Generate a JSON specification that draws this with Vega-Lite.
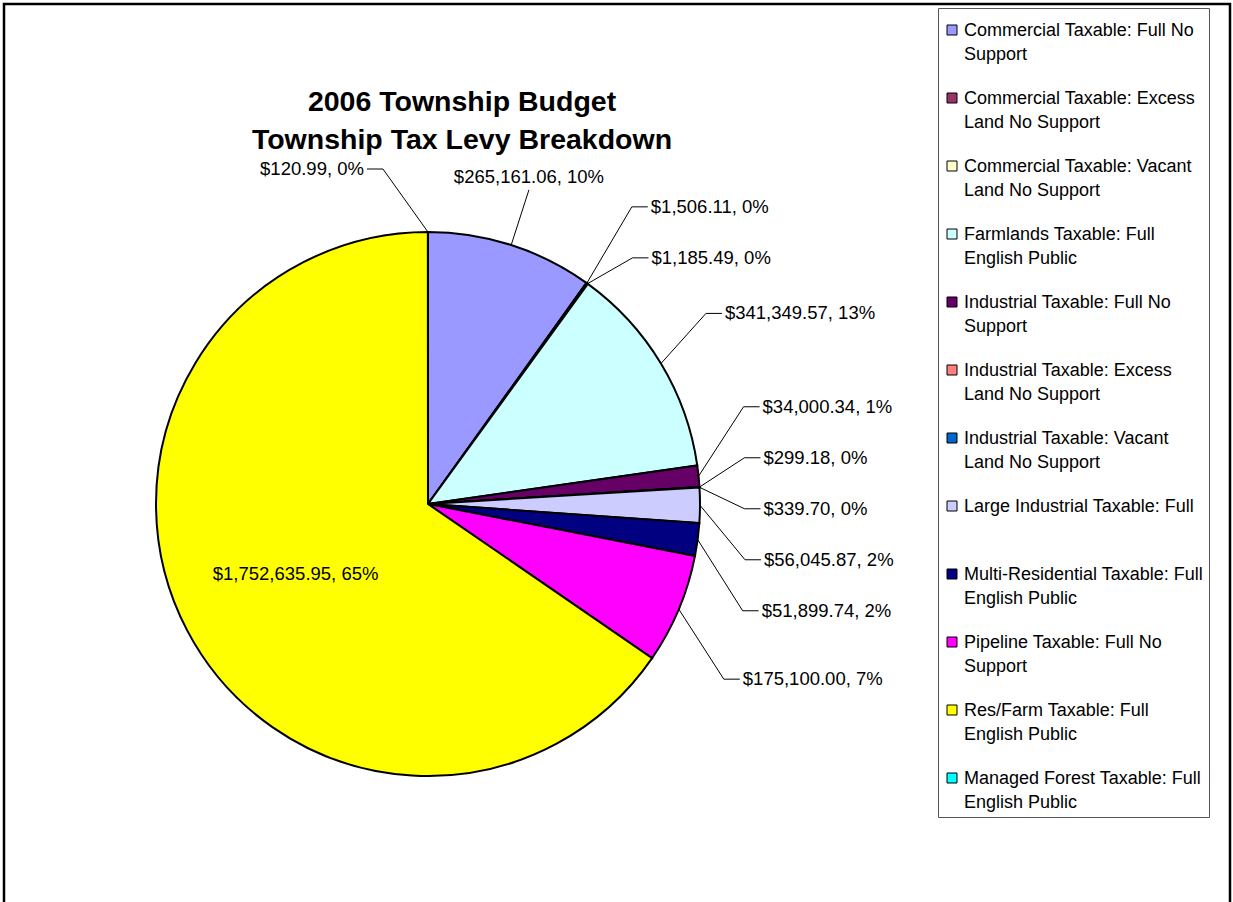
{
  "$schema": "https://vega.github.io/schema/vega-lite/v6.json",
  "autosize": {"type": "fit", "contains": "padding"},
  "width": 1233,
  "height": 902,
  "padding": {"left": 4, "top": 4, "right": 3, "bottom": -8},
  "background": "white",
  "config": {
    "view": {"stroke": "black", "strokeWidth": 2.5},
    "style": {"guide-label": {"lineHeight": 24}}
  },
  "title": {
    "text": ["2006 Township Budget", "Township Tax Levy Breakdown"],
    "font": "Liberation Sans",
    "fontSize": 28.5,
    "fontWeight": "bold",
    "color": "black",
    "anchor": "middle",
    "frame": "group",
    "dx": -155,
    "offset": -150,
    "baseline": "top",
    "lineHeight": 38
  },
  "data": {
    "values": [
      {"name": "Commercial Taxable: Full No Support", "amount": 265161.06},
      {"name": "Commercial Taxable: Excess Land No Support", "amount": 1506.11},
      {"name": "Commercial Taxable: Vacant Land No Support", "amount": 1185.49},
      {"name": "Farmlands Taxable: Full English Public", "amount": 341349.57},
      {"name": "Industrial Taxable: Full No Support", "amount": 34000.34},
      {"name": "Industrial Taxable: Excess Land No Support", "amount": 299.18},
      {"name": "Industrial Taxable: Vacant Land No Support", "amount": 339.70},
      {"name": "Large Industrial Taxable: Full", "amount": 56045.87},
      {"name": "Multi-Residential Taxable: Full English Public", "amount": 51899.74},
      {"name": "Pipeline Taxable: Full No Support", "amount": 175100.00},
      {"name": "Res/Farm Taxable: Full English Public", "amount": 1752635.95},
      {"name": "Managed Forest Taxable: Full English Public", "amount": 120.99}
    ]
  },
  "transform": [
    {"window": [{"op": "row_number", "as": "idx"}]},
    {"joinaggregate": [{"op": "sum", "field": "amount", "as": "total"}]},
    {"window": [{"op": "sum", "field": "amount", "as": "cum"}], "sort": [{"field": "idx"}], "frame": [null, 0], "ignorePeers": true},
    {"calculate": "(datum.cum - datum.amount / 2) / datum.total * 2 * PI", "as": "mid"},
    {"calculate": "datum.amount / datum.total", "as": "frac"},
    {"calculate": "'$' + format(datum.amount, ',.2f') + ', ' + format(datum.frac, '.0%')", "as": "label"},
    {"calculate": "272 * sin(datum.mid)", "as": "ax"},
    {"calculate": "-272 * cos(datum.mid)", "as": "ay"},
    {"calculate": "datum.frac > 0.5 ? 'in' : ((cos(datum.mid) > 0.9 && sin(datum.mid) > 0) ? 'top' : (sin(datum.mid) >= 0 ? 'R' : 'L'))", "as": "side"},
    {"calculate": "datum.side == 'L' ? -1 : 1", "as": "sgn"},
    {"calculate": "-335 * cos(datum.mid)", "as": "ny"},
    {"window": [{"op": "row_number", "as": "k"}], "groupby": ["side"], "sort": [{"field": "ny"}]},
    {"calculate": "datum.ny - datum.k * 51", "as": "z"},
    {"window": [{"op": "max", "field": "z", "as": "zd"}], "groupby": ["side"], "sort": [{"field": "ny"}], "frame": [null, 0], "ignorePeers": true},
    {"window": [{"op": "min", "field": "z", "as": "zu"}], "groupby": ["side"], "sort": [{"field": "ny"}], "frame": [0, null], "ignorePeers": true},
    {"calculate": "(datum.zd + datum.zu) / 2 + datum.k * 51", "as": "ly"},
    {"calculate": "datum.side == 'top' ? 330 * sin(datum.mid) : datum.ax + datum.sgn * 45", "as": "ex"},
    {"calculate": "datum.side == 'top' ? -330 * cos(datum.mid) : datum.ly", "as": "ey"},
    {"calculate": "datum.side == 'top' ? datum.ex : datum.ex + datum.sgn * 16", "as": "lx"},
    {"calculate": "0.55 * 272 * sin(datum.mid)", "as": "ix"},
    {"calculate": "-0.55 * 272 * cos(datum.mid)", "as": "iy"}
  ],
  "layer": [
    {
      "mark": {
        "type": "arc",
        "outerRadius": 272,
        "stroke": "black",
        "strokeWidth": 2,
        "x": {"expr": "scale('x', 0)"},
        "y": {"expr": "scale('y', 0)"}
      },
      "encoding": {
        "theta": {"field": "amount", "type": "quantitative", "stack": true},
        "order": {"field": "idx", "type": "quantitative"},
        "color": {
          "field": "name",
          "type": "nominal",
          "scale": {
            "domain": [
              "Commercial Taxable: Full No Support",
              "Commercial Taxable: Excess Land No Support",
              "Commercial Taxable: Vacant Land No Support",
              "Farmlands Taxable: Full English Public",
              "Industrial Taxable: Full No Support",
              "Industrial Taxable: Excess Land No Support",
              "Industrial Taxable: Vacant Land No Support",
              "Large Industrial Taxable: Full",
              "Multi-Residential Taxable: Full English Public",
              "Pipeline Taxable: Full No Support",
              "Res/Farm Taxable: Full English Public",
              "Managed Forest Taxable: Full English Public"
            ],
            "range": ["#9999FF", "#993366", "#FFFFCC", "#CCFFFF", "#660066", "#FF8080", "#0066CC", "#CCCCFF", "#000080", "#FF00FF", "#FFFF00", "#00FFFF"]
          },
          "legend": {
            "title": null,
            "orient": "none",
            "legendX": 934,
            "legendY": 4,
            "direction": "vertical",
            "symbolType": "M-1,0.6H1V2.6H-1Z",
            "symbolSize": 100,
            "symbolStrokeColor": "black",
            "symbolStrokeWidth": 1,
            "labelFont": "Liberation Sans",
            "labelFontSize": 18,
            "labelColor": "black",
            "labelLimit": 400,
            "labelOffset": 3,
            "labelBaseline": "top",
            "labelExpr": "split(test(regexp(' (Land No Support|English Public|Support)$'), datum.label) ? replace(datum.label, regexp(' (Land No Support|English Public|Support)$'), '|$1') : datum.label + '| ', '|')",
            "rowPadding": 17,
            "padding": 5,
            "strokeColor": "#555555",
            "fillColor": "white"
          }
        }
      }
    },
    {
      "transform": [{"filter": "datum.side != 'in'"}],
      "mark": {"type": "rule", "color": "black", "strokeWidth": 1},
      "encoding": {
        "x": {"field": "ax", "type": "quantitative", "scale": {"domain": [-424, 802], "nice": false, "zero": false}, "axis": null},
        "y": {"field": "ay", "type": "quantitative", "scale": {"domain": [-500, 406], "reverse": true, "nice": false, "zero": false}, "axis": null},
        "x2": {"field": "ex"},
        "y2": {"field": "ey"}
      }
    },
    {
      "transform": [{"filter": "datum.side == 'R' || datum.side == 'L'"}],
      "mark": {"type": "rule", "color": "black", "strokeWidth": 1},
      "encoding": {
        "x": {"field": "ex", "type": "quantitative", "scale": {"domain": [-424, 802], "nice": false, "zero": false}, "axis": null},
        "y": {"field": "ey", "type": "quantitative", "scale": {"domain": [-500, 406], "reverse": true, "nice": false, "zero": false}, "axis": null},
        "x2": {"field": "lx"}
      }
    },
    {
      "transform": [{"filter": "datum.side == 'R'"}],
      "mark": {"type": "text", "align": "left", "baseline": "middle", "dx": 3, "font": "Liberation Sans", "fontSize": 18.5, "color": "black"},
      "encoding": {
        "x": {"field": "lx", "type": "quantitative", "scale": {"domain": [-424, 802], "nice": false, "zero": false}, "axis": null},
        "y": {"field": "ey", "type": "quantitative", "scale": {"domain": [-500, 406], "reverse": true, "nice": false, "zero": false}, "axis": null},
        "text": {"field": "label"}
      }
    },
    {
      "transform": [{"filter": "datum.side == 'L'"}],
      "mark": {"type": "text", "align": "right", "baseline": "middle", "dx": -3, "font": "Liberation Sans", "fontSize": 18.5, "color": "black"},
      "encoding": {
        "x": {"field": "lx", "type": "quantitative", "scale": {"domain": [-424, 802], "nice": false, "zero": false}, "axis": null},
        "y": {"field": "ey", "type": "quantitative", "scale": {"domain": [-500, 406], "reverse": true, "nice": false, "zero": false}, "axis": null},
        "text": {"field": "label"}
      }
    },
    {
      "transform": [{"filter": "datum.side == 'top'"}],
      "mark": {"type": "text", "align": "center", "baseline": "bottom", "dy": -3, "font": "Liberation Sans", "fontSize": 18.5, "color": "black"},
      "encoding": {
        "x": {"field": "ex", "type": "quantitative", "scale": {"domain": [-424, 802], "nice": false, "zero": false}, "axis": null},
        "y": {"field": "ey", "type": "quantitative", "scale": {"domain": [-500, 406], "reverse": true, "nice": false, "zero": false}, "axis": null},
        "text": {"field": "label"}
      }
    },
    {
      "transform": [{"filter": "datum.side == 'in'"}],
      "mark": {"type": "text", "align": "center", "baseline": "middle", "font": "Liberation Sans", "fontSize": 18.5, "color": "black"},
      "encoding": {
        "x": {"field": "ix", "type": "quantitative", "scale": {"domain": [-424, 802], "nice": false, "zero": false}, "axis": null},
        "y": {"field": "iy", "type": "quantitative", "scale": {"domain": [-500, 406], "reverse": true, "nice": false, "zero": false}, "axis": null},
        "text": {"field": "label"}
      }
    }
  ]
}
